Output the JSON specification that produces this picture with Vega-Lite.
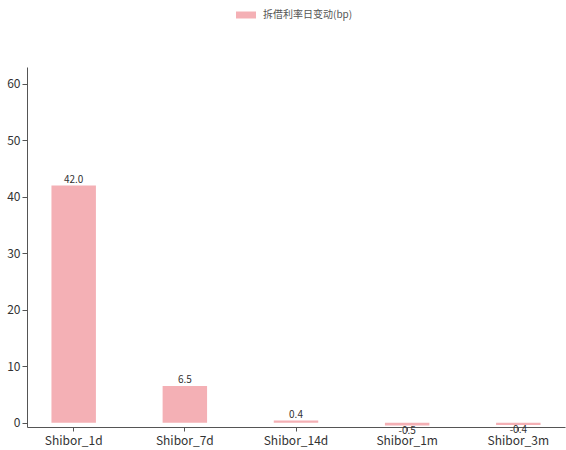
{
  "$schema": "https://vega.github.io/schema/vega-lite/v6.json",
  "width": 538,
  "height": 360,
  "autosize": {"type": "none"},
  "padding": {"left": 27, "top": 67, "right": 1, "bottom": 23},
  "config": {
    "view": {"stroke": null},
    "font": "Noto Sans CJK SC",
    "locale": {"number": {"decimal": ".", "thousands": ",", "grouping": [3], "currency": ["$", ""], "minus": "-"}},
    "axis": {"grid": false, "domainColor": "#555555", "tickColor": "#555555", "labelColor": "#333333", "labelFontSize": 12, "title": null}
  },
  "data": {
    "values": [
      {"term": "Shibor_1d", "value": 42.0},
      {"term": "Shibor_7d", "value": 6.5},
      {"term": "Shibor_14d", "value": 0.4},
      {"term": "Shibor_1m", "value": -0.5},
      {"term": "Shibor_3m", "value": -0.4}
    ]
  },
  "encoding": {
    "x": {
      "field": "term",
      "type": "nominal",
      "sort": null,
      "scale": {"paddingInner": 0.6, "paddingOuter": 0.22},
      "axis": {"labelAngle": 0, "tickSize": 4, "labelPadding": 4, "labelFontSize": 12}
    }
  },
  "layer": [
    {
      "mark": {"type": "bar"},
      "encoding": {
        "y": {
          "field": "value",
          "type": "quantitative",
          "scale": {"domain": [-0.75, 63], "nice": false},
          "axis": {"values": [0, 10, 20, 30, 40, 50, 60], "tickSize": 5, "labelPadding": 2}
        },
        "color": {
          "datum": "拆借利率日变动(bp)",
          "type": "nominal",
          "scale": {"range": ["#f4b0b5"]},
          "legend": {
            "orient": "none",
            "legendX": 209,
            "legendY": -62,
            "title": null,
            "symbolType": "M-1,-0.35L1,-0.35L1,0.35L-1,0.35Z",
            "symbolSize": 400,
            "symbolStrokeWidth": 0,
            "labelFontSize": 10,
            "labelColor": "#555555",
            "labelOffset": 7
          }
        }
      }
    },
    {
      "transform": [{"filter": "datum.value >= 0"}],
      "mark": {"type": "text", "baseline": "bottom", "dy": -1, "fontSize": 10, "color": "#333333"},
      "encoding": {
        "y": {"field": "value", "type": "quantitative"},
        "text": {"field": "value", "type": "quantitative", "format": ".1f"}
      }
    },
    {
      "transform": [{"filter": "datum.value < 0"}],
      "mark": {"type": "text", "baseline": "top", "dy": 0, "fontSize": 10, "color": "#333333"},
      "encoding": {
        "y": {"field": "value", "type": "quantitative"},
        "text": {"field": "value", "type": "quantitative", "format": ".1f"}
      }
    }
  ]
}
